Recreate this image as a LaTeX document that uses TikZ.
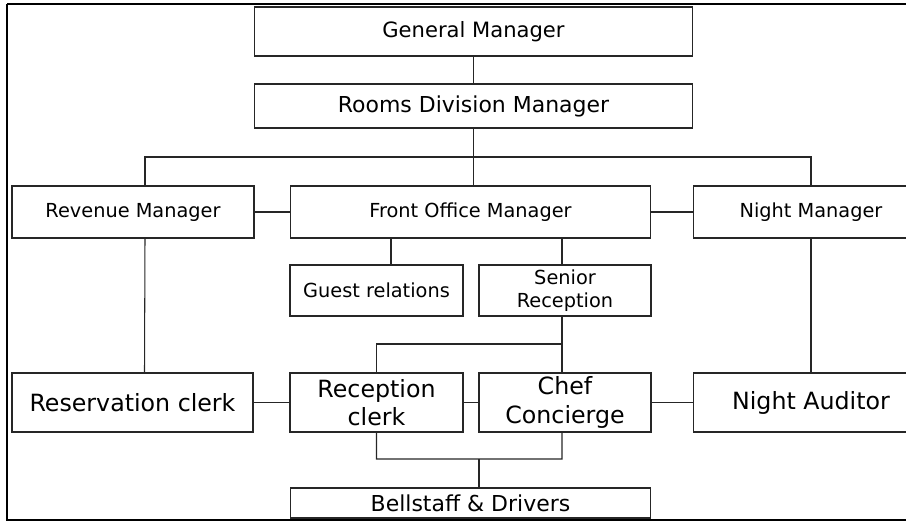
\documentclass[tikz,border=0pt]{standalone}
\usepackage{fontspec}
\setmainfont{DejaVu Sans}
\usepackage{tikz}
\usetikzlibrary{calc}
\tikzset{>=stealth}
\tikzset{
  post/.style={draw=black!85,line width=0.6pt,inner sep=0pt,align=center,text=black},
  wire/.style={draw=black!85,line width=0.6pt},
}

\begin{document}
\begin{tikzpicture}[x=0.02cm,y=-0.02cm]
      \clip (0,0) rectangle (906,523);
      \useasboundingbox (0,0) rectangle (906,523);
      \draw[line width=1.4pt] (7,4) -- (7,520) -- (930,520);
      \draw[line width=1.4pt] (7,4) -- (930,4);
      % top of the chart
      \node[post,minimum width=8.78cm,minimum height=0.98cm,font=\fontsize{12}{14}\selectfont] at (473.5,31.5) (gm) {General Manager};
      \node[post,minimum width=8.78cm,minimum height=0.88cm,font=\fontsize{12.5}{14}\selectfont] at (473.5,106) (rdm) {Rooms Division Manager};
      % managers
      \node[post,minimum width=4.84cm,minimum height=1.04cm,font=\fontsize{11}{13}\selectfont] at (133,212) (rev) {Revenue Manager};
      \node[post,minimum width=7.22cm,minimum height=1.04cm,font=\fontsize{11}{13}\selectfont] at (470.5,212) (fom) {Front Office Manager};
      \node[post,minimum width=4.72cm,minimum height=1.04cm,font=\fontsize{11}{13}\selectfont] at (811,212) (nm) {Night Manager};
      \node[post,minimum width=3.46cm,minimum height=1.02cm,font=\fontsize{11}{13}\selectfont] at (376.5,290.5) (gr) {Guest relations};
      \node[post,minimum width=3.44cm,minimum height=1.02cm,font=\fontsize{11}{13}\selectfont] at (565,290.5) (sr) {Senior\\Reception};
      % staff
      \node[post,minimum width=4.82cm,minimum height=1.18cm,font=\fontsize{13.5}{16}\selectfont] at (132.5,402.5) (res) {Reservation clerk};
      \node[post,minimum width=3.46cm,minimum height=1.18cm,font=\fontsize{13.5}{16}\selectfont] at (376.5,402.5) (rc) {Reception\\clerk};
      \node[post,minimum width=3.44cm,minimum height=1.18cm,font=\fontsize{13.5}{16}\selectfont] at (565,402.5) (cc) {Chef\\Concierge};
      \node[post,minimum width=4.72cm,minimum height=1.18cm,font=\fontsize{13.5}{16}\selectfont] at (811,402.5) (na) {Night Auditor};
      \node[post,minimum width=7.22cm,minimum height=0.60cm,font=\fontsize{12.5}{14}\selectfont] at (470.5,503) (bd) {Bellstaff \& Drivers};
      % lines
      \draw[wire] (gm.south) -- (rdm.north);
      \draw[wire] (rdm.south) -- (rdm.south |- fom.north);
      \coordinate (bus) at (473.5,157);
      \draw[wire] ([xshift=0.24cm]rev.north) |- (bus) -| (nm.north);
      \draw[wire] (rev.east) -- (fom.west);
      \draw[wire] (fom.east) -- (nm.west);
      \coordinate (g1) at ([xshift=0.29cm]gr.north);
      \draw[wire] (g1) -- (g1 |- fom.south);
      \draw[wire] ([xshift=-0.06cm]sr.north) -- ([xshift=-0.06cm]sr.north |- fom.south);
      \draw[wire] ([xshift=-0.06cm]sr.south) -- ([xshift=-0.06cm]cc.north);
      \coordinate (jt) at (562,344);
      \draw[wire] (rc.north) |- (jt);
      \draw[wire] ([xshift=0.24cm]rev.south) -- ([xshift=0.24cm]res.north);
      \draw[wire] (nm.south) -- (na.north);
      \draw[wire] (res.east) -- (rc.west);
      \draw[wire] (rc.east) -- (cc.west);
      \draw[wire] (cc.east) -- (na.west);
      \coordinate (jb) at (562,459);
      \draw[wire] (rc.south) |- (jb) -- ([xshift=-0.06cm]cc.south);
      \coordinate (b1) at ([xshift=0.17cm]bd.north);
      \draw[wire] (b1) -- (b1 |- jb);
       \end{tikzpicture}
\end{document}
